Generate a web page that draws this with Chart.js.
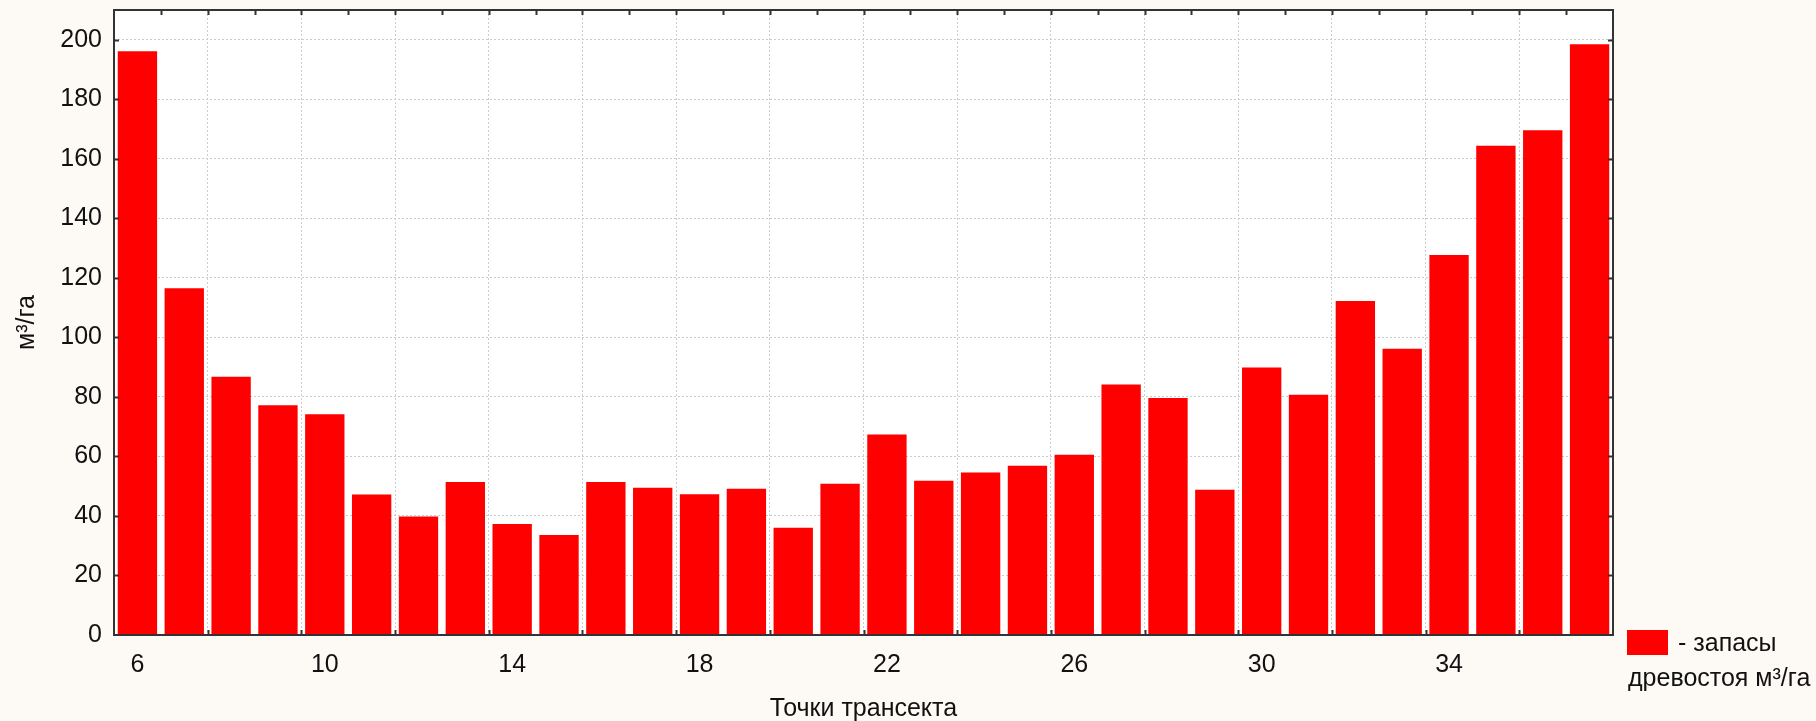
<!DOCTYPE html>
<html>
<head>
<meta charset="utf-8">
<script src="https://cdn.jsdelivr.net/npm/chart.js@4"></script>
<style>
    body { margin: 0; background: #fdfaf5; }
    #wrap { width: 1816px; height: 721px; }
</style>
</head>
<body>
<div id="wrap"><canvas id="myChart" width="1816" height="721"></canvas></div>
<script>
// точки трансекта 6..37
var points = [6, 7, 8, 9, 10, 11, 12, 13, 14, 15, 16, 17, 18, 19, 20, 21,
              22, 23, 24, 25, 26, 27, 28, 29, 30, 31, 32, 33, 34, 35, 36, 37];
var zapasy = [196.1, 116.5, 86.8, 77.2, 74.2, 47.2, 39.8, 51.4, 37.3, 33.6, 51.4, 49.5,
              47.3, 49.1, 36.0, 50.8, 67.4, 51.8, 54.6, 56.9, 60.6, 84.2, 79.6, 48.8,
              89.9, 80.7, 112.2, 96.2, 127.7, 164.4, 169.6, 198.5];
var x_tick_labels = [6, 10, 14, 18, 22, 26, 30, 34];
var y_max = 210;
var y_step = 20;

var font_family = "'Liberation Sans', Arial, sans-serif";
var font_size = 25;
var text_color = '#111111';
var frame_color = '#333333';

// frame, inward ticks and legend (drawn after chart)
var frame_plugin = {
    id: 'frame',
    beforeDraw: function (chart) {
        let ctx = chart.ctx;
        let a = chart.chartArea;
        ctx.save();
        ctx.fillStyle = 'white';
        ctx.fillRect(a.left, a.top, a.right - a.left, a.bottom - a.top);
        ctx.restore();
    },
    afterDraw: function (chart) {
        let ctx = chart.ctx;
        let a = chart.chartArea;
        let xs = chart.scales.x;
        let ys = chart.scales.y;
        let n = points.length;
        let w = (xs.right - xs.left) / n;
        ctx.save();
        ctx.strokeStyle = frame_color;
        ctx.lineWidth = 2;
        ctx.strokeRect(a.left, a.top, a.right - a.left, a.bottom - a.top);
        ctx.beginPath();
        for (let i = 1; i < n; i++) {
            let px = Math.round(xs.left + i * w) + 0.5;
            ctx.moveTo(px, a.top);
            ctx.lineTo(px, a.top + 5);
            if (i % 2 == 0) {
                ctx.moveTo(px, a.bottom);
                ctx.lineTo(px, a.bottom - 5);
            }
        }
        for (let v = y_step; v <= 200; v += y_step) {
            let py = Math.round(ys.getPixelForValue(v)) + 0.5;
            ctx.moveTo(a.left, py);
            ctx.lineTo(a.left + 5, py);
            ctx.moveTo(a.right, py);
            ctx.lineTo(a.right - 5, py);
        }
        ctx.stroke();

        // legend
        let ds = chart.data.datasets[0];
        ctx.fillStyle = ds.backgroundColor;
        ctx.fillRect(1627, 630, 41, 25);
        ctx.fillStyle = text_color;
        ctx.font = font_size + 'px ' + font_family;
        ctx.textBaseline = 'middle';
        ctx.textAlign = 'left';
        ctx.fillText(ds.label[0], 1678, 644);
        ctx.fillText(ds.label[1], 1628, 679);
        ctx.restore();
    }
};

var ctx = document.getElementById('myChart');
var chart = new Chart(ctx, {
    type: 'bar',
    data: {
        labels: points,
        datasets: [
            {
                label: ['- запасы', 'древостоя м³/га'],
                data: zapasy,
                backgroundColor: '#ff0000',
                borderWidth: 0,
                barPercentage: 0.84,
                categoryPercentage: 1.0,
            },
        ]
    },
    options: {
        responsive: false,
        animation: false,
        layout: { padding: { left: 0, right: 203, top: 10, bottom: 0 } },
        scales: {
            x: {
                offset: true,
                grid: {
                    offset: true,
                    drawTicks: false,
                    color: function (c) {
                        if (c.index == 0 || c.index == points.length) return 'rgba(0,0,0,0)';
                        return c.index % 2 == 0 ? '#cccccc' : 'rgba(0,0,0,0)';
                    },
                    lineWidth: 1,
                },
                border: { display: false, dash: [2, 2] },
                ticks: {
                    autoSkip: false,
                    maxRotation: 0,
                    padding: 15,
                    color: text_color,
                    font: { size: font_size, family: font_family },
                    callback: function (val, i) {
                        let p = points[i];
                        return x_tick_labels.indexOf(p) >= 0 ? String(p) : '';
                    }
                },
                title: {
                    display: true,
                    text: 'Точки трансекта',
                    color: text_color,
                    padding: { top: 0, bottom: -3 },
                    font: { size: font_size, family: font_family }
                },
                afterFit: function (s) {
                    s.height = 721 - 635;
                    s.paddingLeft = 0;
                    s.paddingRight = 0;
                }
            },
            y: {
                min: 0,
                max: y_max,
                grid: {
                    drawTicks: false,
                    color: function (c) {
                        return c.tick.value > 0 ? '#cccccc' : 'rgba(0,0,0,0)';
                    },
                    lineWidth: 1,
                },
                border: { display: false, dash: [2, 2] },
                ticks: {
                    stepSize: y_step,
                    padding: 12,
                    color: text_color,
                    font: { size: font_size, family: font_family }
                },
                afterBuildTicks: function (s) {
                    s.ticks = s.ticks.filter(function (t) { return t.value <= 200; });
                },
                title: {
                    display: true,
                    text: 'м³/га',
                    color: text_color,
                    padding: { top: 12, bottom: 0 },
                    font: { size: font_size, family: font_family }
                },
                afterFit: function (s) {
                    s.width = 114;
                    s.paddingTop = 0;
                    s.paddingBottom = 0;
                }
            }
        },
        plugins: {
            legend: { display: false },
            tooltip: { enabled: false },
            title: { display: false },
        },
    },
    plugins: [frame_plugin]
});
</script>
</body>
</html>
